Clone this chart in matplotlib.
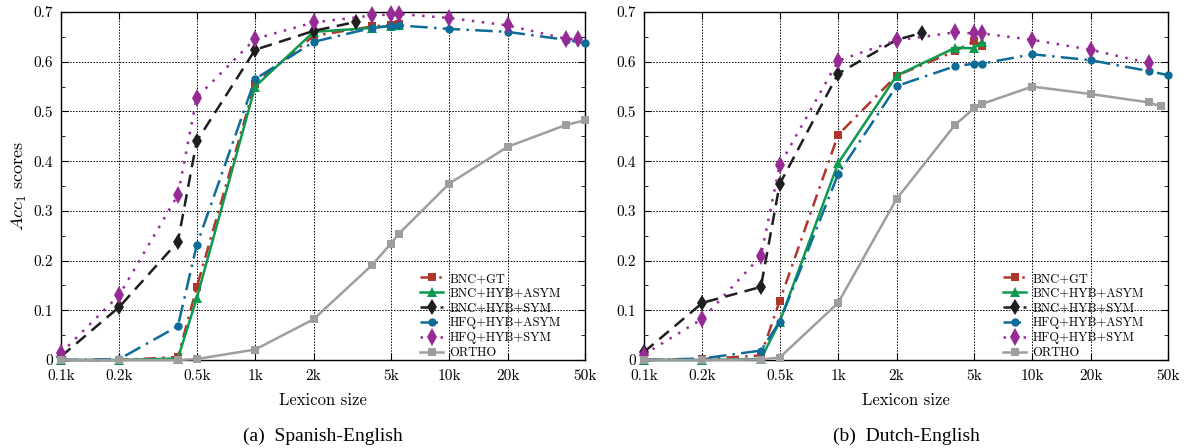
import matplotlib
matplotlib.use("Agg")
import matplotlib.pyplot as plt
from matplotlib.ticker import FixedLocator, NullLocator

plt.rcParams["font.family"] = ["cmr10", "DejaVu Serif"]
plt.rcParams["mathtext.fontset"] = "cm"
plt.rcParams["axes.formatter.use_mathtext"] = True

# --- data (lexicon size in words) -------------------------------------------
X_TICKS = [100, 200, 500, 1000, 2000, 5000, 10000, 20000, 50000]
X_TICK_LABELS = ["0.1k", "0.2k", "0.5k", "1k", "2k", "5k", "10k", "20k", "50k"]
Y_TICKS = [0.0, 0.1, 0.2, 0.3, 0.4, 0.5, 0.6, 0.7]
Y_TICK_LABELS = ["0", "0.1", "0.2", "0.3", "0.4", "0.5", "0.6", "0.7"]
Y_MINOR = [0.05, 0.15, 0.25, 0.35, 0.45, 0.55, 0.65]

# (a) Spanish-English
es_x_short = [100, 200, 400, 500, 1000, 2000, 4000, 5000, 5500]
es_bnc_gt = [0.0, 0.0, 0.006, 0.146, 0.556, 0.652, 0.671, 0.674, 0.675]
es_bnc_hyb_asym = [0.0, 0.0, 0.003, 0.124, 0.550, 0.660, 0.668, 0.672, 0.673]
es_sym_x = [100, 200, 400, 500, 1000, 2000, 3300]
es_bnc_hyb_sym = [0.007, 0.107, 0.238, 0.440, 0.624, 0.662, 0.680]
es_x_long = [100, 200, 400, 500, 1000, 2000, 4000, 5000, 5500, 10000, 20000, 40000, 50000]
es_hfq_hyb_asym = [0.0, 0.002, 0.068, 0.231, 0.565, 0.640, 0.668, 0.672, 0.673,
                   0.666, 0.660, 0.644, 0.637]
es_x_sym = [100, 200, 400, 500, 1000, 2000, 4000, 5000, 5500, 10000, 20000, 40000, 46000]
es_hfq_hyb_sym = [0.014, 0.131, 0.332, 0.528, 0.646, 0.679, 0.693, 0.695, 0.696,
                  0.688, 0.673, 0.646, 0.645]
es_ortho = [0.0, 0.0, 0.0, 0.002, 0.021, 0.082, 0.191, 0.234, 0.254,
            0.355, 0.429, 0.473, 0.482]

# (b) Dutch-English
nl_x_short = [100, 200, 400, 500, 1000, 2000, 4000, 5000, 5500]
nl_bnc_gt = [0.0, 0.002, 0.009, 0.119, 0.453, 0.572, 0.621, 0.641, 0.632]
nl_bnc_hyb_asym = [0.0, 0.0, 0.002, 0.077, 0.396, 0.572, 0.628, 0.627, 0.640]
nl_sym_x = [100, 200, 400, 500, 1000, 2000, 2700]
nl_bnc_hyb_sym = [0.016, 0.115, 0.147, 0.354, 0.576, 0.644, 0.658]
nl_x_long = [100, 200, 400, 500, 1000, 2000, 4000, 5000, 5500, 10000, 20000, 40000, 50000]
nl_hfq_hyb_asym = [0.0, 0.003, 0.019, 0.077, 0.374, 0.551, 0.591, 0.596, 0.596,
                   0.615, 0.603, 0.581, 0.573]
nl_x_sym = [100, 200, 400, 500, 1000, 2000, 4000, 5000, 5500, 10000, 20000, 40000]
nl_hfq_hyb_sym = [0.011, 0.083, 0.209, 0.392, 0.602, 0.643, 0.659, 0.657, 0.657,
                  0.644, 0.624, 0.597]
nl_x_ortho = [100, 200, 400, 500, 1000, 2000, 4000, 5000, 5500, 10000, 20000, 40000, 46000]
nl_ortho = [0.0, 0.0, 0.001, 0.005, 0.115, 0.324, 0.473, 0.506, 0.515,
            0.550, 0.535, 0.518, 0.510]

STYLES = {
    "BNC+GT": dict(color="#B0352B", ls=(0, (5, 2.5, 1, 2.5)), marker="s", ms=6),
    "BNC+HYB+ASYM": dict(color="#0C9A4E", ls="-", marker="^", ms=7),
    "BNC+HYB+SYM": dict(color="#1E1E1E", ls=(0, (5, 3)), marker="d", ms=8),
    "HFQ+HYB+ASYM": dict(color="#0E6C98", ls=(0, (7, 2.5, 1, 2.5)), marker="o", ms=6),
    "HFQ+HYB+SYM": dict(color="#962B96", ls=(0, (1, 3)), marker="d", ms=9),
    "ORTHO": dict(color="#9E9E9E", ls="-", marker="s", ms=6),
}

panels = [
    ("(a)  Spanish-English", [
        ("BNC+GT", es_x_short, es_bnc_gt),
        ("BNC+HYB+ASYM", es_x_short, es_bnc_hyb_asym),
        ("BNC+HYB+SYM", es_sym_x, es_bnc_hyb_sym),
        ("HFQ+HYB+ASYM", es_x_long, es_hfq_hyb_asym),
        ("HFQ+HYB+SYM", es_x_sym, es_hfq_hyb_sym),
        ("ORTHO", es_x_long, es_ortho),
    ]),
    ("(b)  Dutch-English", [
        ("BNC+GT", nl_x_short, nl_bnc_gt),
        ("BNC+HYB+ASYM", nl_x_short, nl_bnc_hyb_asym),
        ("BNC+HYB+SYM", nl_sym_x, nl_bnc_hyb_sym),
        ("HFQ+HYB+ASYM", nl_x_long, nl_hfq_hyb_asym),
        ("HFQ+HYB+SYM", nl_x_sym, nl_hfq_hyb_sym),
        ("ORTHO", nl_x_ortho, nl_ortho),
    ]),
]

fig = plt.figure(figsize=(11.87, 4.48), dpi=100)
W, H = 1187, 448
boxes = [(61, 585), (644, 1168)]
top_px, bot_px = 12, 360

for i, ((caption, series), (x0, x1)) in enumerate(zip(panels, boxes)):
    ax = fig.add_axes([x0 / W, 1 - bot_px / H, (x1 - x0) / W, (bot_px - top_px) / H])
    for name, xs, ys in series:
        st = STYLES[name]
        ax.plot(xs, ys, color=st["color"], linestyle=st["ls"], lw=1.8,
                marker=st["marker"], ms=st["ms"], mew=0, label=name, zorder=3,
                clip_on=False)
    ax.set_xscale("log")
    ax.set_xlim(100, 50000)
    ax.set_ylim(0, 0.7)
    ax.xaxis.set_major_locator(FixedLocator(X_TICKS))
    ax.xaxis.set_minor_locator(NullLocator())
    ax.set_xticklabels(X_TICK_LABELS)
    ax.yaxis.set_major_locator(FixedLocator(Y_TICKS))
    ax.yaxis.set_minor_locator(FixedLocator(Y_MINOR))
    ax.set_yticklabels(Y_TICK_LABELS)
    ax.tick_params(which="both", direction="in", top=True, right=True, labelsize=11)
    ax.tick_params(axis="x", pad=7)
    ax.tick_params(axis="y", pad=6)
    ax.tick_params(which="major", length=5)
    ax.tick_params(which="minor", length=3)
    ax.grid(True, which="major", color="black", ls=(0, (1.5, 1.5)), lw=0.7)
    for sp in ax.spines.values():
        sp.set_linewidth(1.0)
    ax.set_xlabel("Lexicon size", fontsize=12, labelpad=7)
    if i == 0:
        ax.set_ylabel("$Acc_1$ scores", fontsize=13, labelpad=3)
    ax.legend(loc="lower right", frameon=False, fontsize=9, handlelength=1.9,
              handletextpad=0.5, labelspacing=0.22, borderaxespad=0.0,
              bbox_to_anchor=(0.964, -0.012))
    fig.text((x0 + x1) / 2 / W, 1 - 436 / H, caption, ha="center", va="center",
             fontsize=14, family=["Liberation Serif"])

fig.savefig("out.png", dpi=100)
